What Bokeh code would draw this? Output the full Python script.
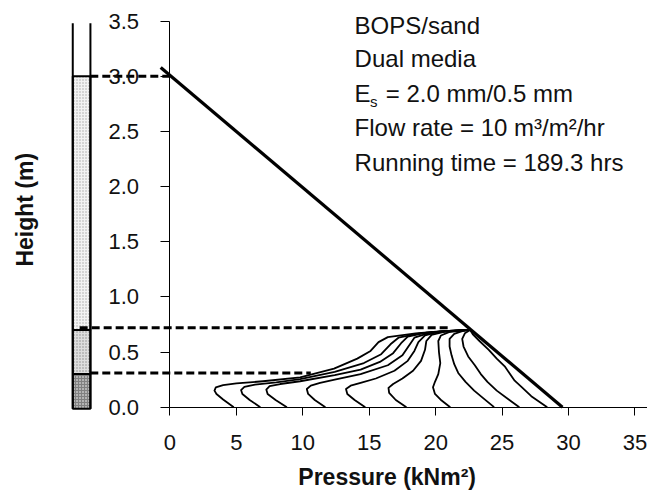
import math
from bokeh.plotting import figure
from bokeh.models import FixedTicker, PrintfTickFormatter, Range1d, ColumnDataSource
from bokeh.core.properties import value
from bokeh.embed import file_html
from bokeh.resources import INLINE

FONT = "Liberation Sans"
INK = "#111111"

# ---- axes ----
x_ticks = [0, 5, 10, 15, 20, 25, 30, 35]
y_ticks = [0.0, 0.5, 1.0, 1.5, 2.0, 2.5, 3.0, 3.5]
x_title = "Pressure (kNm\u00b2)"
y_title = "Height (m)"

# ---- filter column (media layers) ----
layer_bottom = [-0.015, 0.30, 0.70]
layer_top = [0.30, 0.70, 3.0]
layer_fill = ["#808080", "#dedede", "#f3f3f3"]
layer_hatch = ["#ffffff", "#8c8c8c", "#a8a8a8"]
col_left = -7.32
col_right = -5.99
col_tube_top = 3.48

# ---- dashed reference levels ----
dash_h = [3.0, 0.72, 0.31]
dash_x0 = [-6.0, -6.8, -6.0]
dash_x1 = [0.0, 21.2, 10.6]

# ---- clean-bed / hydrostatic line ----
main_p = [-0.7, 29.55]
main_h = [3.08, 0.0]

# ---- pressure profiles (pressure, height) ----
c01_p = [22.6, 20.5, 18.5, 16.4, 15.7, 15.1, 14.1, 12.35, 9.8, 7.0, 5.0, 4.0, 3.45, 3.35, 3.5, 4.0, 4.8]
c01_h = [0.70, 0.69, 0.67, 0.635, 0.59, 0.51, 0.44, 0.35, 0.27, 0.235, 0.215, 0.20, 0.18, 0.15, 0.12, 0.07, 0.0]
c02_p = [22.6, 20.7, 18.8, 17.2, 16.6, 15.9, 14.6, 12.4, 9.8, 8.0, 6.4, 5.6, 5.35, 5.45, 6.0, 6.8]
c02_h = [0.70, 0.69, 0.67, 0.63, 0.57, 0.48, 0.40, 0.32, 0.255, 0.225, 0.205, 0.185, 0.155, 0.12, 0.065, 0.0]
c03_p = [22.6, 21.0, 19.3, 17.9, 17.4, 16.8, 15.8, 14.35, 12.4, 9.8, 8.3, 7.5, 7.25, 7.35, 7.95, 8.8]
c03_h = [0.70, 0.69, 0.675, 0.64, 0.58, 0.49, 0.41, 0.34, 0.29, 0.235, 0.21, 0.19, 0.16, 0.12, 0.065, 0.0]
c04_p = [22.6, 21.2, 19.7, 18.4, 18.0, 17.5, 16.4, 14.35, 12.4, 11.3, 10.6, 10.3, 10.4, 10.9, 11.7]
c04_h = [0.70, 0.69, 0.68, 0.63, 0.56, 0.47, 0.38, 0.30, 0.25, 0.22, 0.195, 0.165, 0.12, 0.065, 0.0]
c05_p = [22.6, 21.5, 20.3, 19.2, 18.7, 18.4, 17.9, 16.9, 15.5, 14.35, 13.6, 13.25, 13.35, 13.9, 14.7]
c05_h = [0.70, 0.695, 0.685, 0.65, 0.59, 0.51, 0.42, 0.33, 0.26, 0.22, 0.195, 0.165, 0.12, 0.065, 0.0]
c06_p = [22.6, 21.8, 20.7, 19.7, 19.3, 19.2, 18.9, 18.3, 17.5, 16.8, 16.45, 16.5, 17.0, 17.8]
c06_h = [0.70, 0.695, 0.685, 0.655, 0.60, 0.52, 0.42, 0.33, 0.26, 0.21, 0.175, 0.13, 0.065, 0.0]
c07_p = [22.6, 21.9, 21.0, 20.4, 20.2, 20.25, 20.35, 20.2, 19.95, 19.8, 19.95, 20.45, 21.1]
c07_h = [0.70, 0.695, 0.68, 0.65, 0.60, 0.50, 0.40, 0.30, 0.23, 0.18, 0.12, 0.06, 0.0]
c08_p = [22.6, 22.0, 21.4, 21.05, 21.05, 21.2, 21.4, 21.7, 22.25, 22.9, 23.6, 24.4]
c08_h = [0.70, 0.69, 0.665, 0.62, 0.55, 0.47, 0.39, 0.31, 0.23, 0.15, 0.08, 0.0]
c09_p = [22.6, 22.2, 22.0, 22.1, 22.45, 22.95, 23.4, 23.9, 24.6, 25.5, 26.3]
c09_h = [0.70, 0.67, 0.62, 0.55, 0.46, 0.38, 0.30, 0.23, 0.15, 0.07, 0.0]
c10_p = [22.6, 22.8, 23.3, 24.0, 24.6, 25.2, 25.6, 25.95, 26.5, 27.2, 27.8, 28.4]
c10_h = [0.70, 0.66, 0.60, 0.52, 0.44, 0.37, 0.30, 0.24, 0.18, 0.10, 0.05, 0.0]

curves_p = [c01_p, c02_p, c03_p, c04_p, c05_p, c06_p, c07_p, c08_p, c09_p, c10_p]
curves_h = [c01_h, c02_h, c03_h, c04_h, c05_h, c06_h, c07_h, c08_h, c09_h, c10_h]

# ---- annotation ----
ann_text = ["BOPS/sand", "Dual media", "E", "= 2.0 mm/0.5 mm",
            "Flow rate = 10 m\u00b3/m\u00b2/hr", "Running time = 189.3 hrs"]
ann_x = [13.9, 13.9, 13.9, 16.24, 13.9, 13.9]
ann_y = [3.46, 3.16, 2.84, 2.84, 2.54, 2.22]
sub_text = ["s"]
sub_x = [15.05]
sub_y = [2.775]

# axis title anchors
x_title_pos = (16.35, -0.63)
y_title_pos = (-10.95, 1.79)

p = figure(width=647, height=498,
           x_range=Range1d(-12.76, 35.95), y_range=Range1d(-0.828, 3.687),
           output_backend="svg", toolbar_location=None,
           min_border_left=0, min_border_right=0, min_border_top=0, min_border_bottom=0)
p.xgrid.visible = False
p.ygrid.visible = False
p.outline_line_color = None
p.background_fill_color = "white"
p.border_fill_color = "white"

# x axis at height = 0
xa = p.xaxis[0]
xa.fixed_location = 0
xa.ticker = FixedTicker(ticks=x_ticks)
xa.bounds = (0, 35.95)
xa.axis_line_color = "black"
xa.major_tick_line_color = "black"
xa.major_tick_out = 8
xa.major_tick_in = 0
xa.minor_tick_line_color = None
xa.major_label_text_font = FONT
xa.major_label_text_font_size = "22px"
xa.major_label_text_color = INK
xa.major_label_standoff = 20

# y axis at pressure = 0
ya = p.yaxis[0]
ya.fixed_location = 0
ya.ticker = FixedTicker(ticks=y_ticks)
ya.formatter = PrintfTickFormatter(format="%.1f")
ya.bounds = (0, 3.5)
ya.axis_line_color = "black"
ya.major_tick_line_color = "black"
ya.major_tick_out = 9
ya.major_tick_in = 0
ya.minor_tick_line_color = None
ya.major_label_text_font = FONT
ya.major_label_text_font_size = "22px"
ya.major_label_text_color = INK
ya.major_label_standoff = 22

# column layers
p.quad(left=[col_left] * 3, right=[col_right] * 3, bottom=layer_bottom, top=layer_top,
       fill_color=layer_fill, hatch_pattern="dot", hatch_color=layer_hatch,
       hatch_scale=3, hatch_weight=1, line_color="black", line_width=2)
p.segment(x0=[col_left, col_right], y0=[layer_bottom[0]] * 2,
          x1=[col_left, col_right], y1=[col_tube_top] * 2,
          line_color="black", line_width=2)

# dashed levels
p.segment(x0=dash_x0, y0=dash_h, x1=dash_x1, y1=dash_h,
          line_color="black", line_width=3, line_dash="8 4")

# profiles
src = ColumnDataSource(dict(xs=curves_p, ys=curves_h))
p.multi_line(xs="xs", ys="ys", source=src, line_color="black", line_width=1.8,
             line_join="round")
p.line(main_p, main_h, line_color="black", line_width=3.2)

# annotation text
p.text(x=ann_x, y=ann_y, text=ann_text, text_font=value(FONT),
       text_font_size="24px", text_color=INK, text_baseline="middle", text_align="left")
p.text(x=sub_x, y=sub_y, text=sub_text, text_font=value(FONT),
       text_font_size="15px", text_color=INK, text_baseline="middle", text_align="left")

# axis titles
p.text(x=[x_title_pos[0]], y=[x_title_pos[1]], text=[x_title], text_font=value(FONT),
       text_font_size="23px", text_font_style="bold", text_color=INK,
       text_baseline="middle", text_align="center")
p.text(x=[y_title_pos[0]], y=[y_title_pos[1]], text=[y_title], text_font=value(FONT),
       text_font_size="23px", text_font_style="bold", text_color=INK,
       text_baseline="middle", text_align="center", angle=math.pi / 2)

open("out.html", "w").write(file_html(p, INLINE))
